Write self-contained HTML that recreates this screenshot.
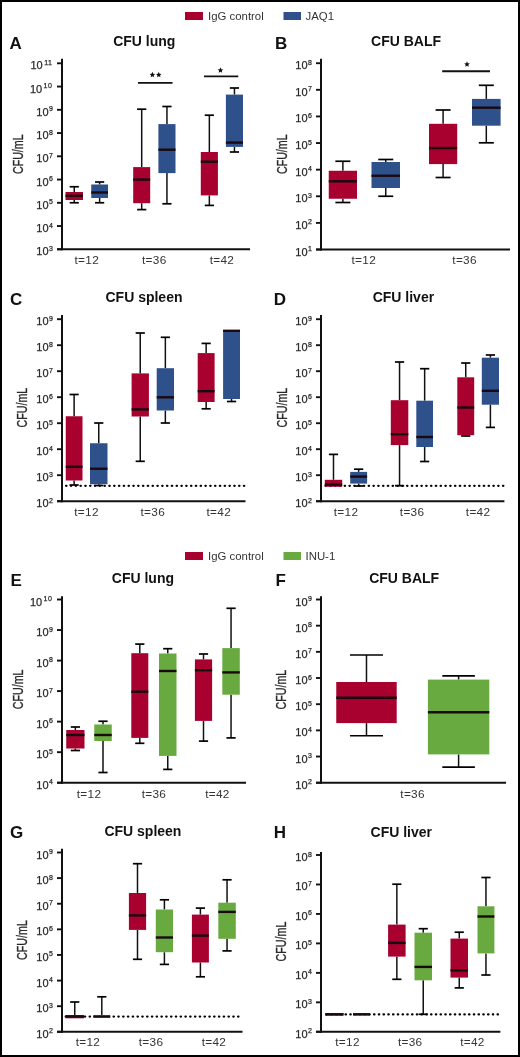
<!DOCTYPE html>
<html><head><meta charset="utf-8"><title>CFU box plots</title>
<style>
html,body{margin:0;padding:0;background:#fff;}
body{width:520px;height:1057px;overflow:hidden;}
.frame{position:absolute;left:0;top:0;width:520px;height:1057px;box-sizing:border-box;border:2px solid #000;}
svg{position:absolute;left:0;top:0;will-change:transform;}
text{font-family:"Liberation Sans",sans-serif;}
.tk{font-size:11px;fill:#2a2a2a;stroke:#2a2a2a;stroke-width:0.25px;}
.sup{font-size:7px;}
.yl{font-size:15.5px;fill:#2a2a2a;stroke:#2a2a2a;stroke-width:0.35px;}
.tl{font-size:11.8px;fill:#333;letter-spacing:0.3px;}
.ti{font-size:14px;font-weight:bold;fill:#111;}
.le{font-size:17px;font-weight:bold;fill:#111;}
.st{font-size:13px;fill:#111;}
.lg{font-size:11.4px;fill:#333333;}
</style></head>
<body>
<svg width="520" height="1057" viewBox="0 0 520 1057">
<rect x="185" y="12" width="18" height="8" fill="#a8002f"/>
<text x="208" y="20" class="lg">IgG control</text>
<rect x="283.5" y="12" width="17.5" height="8" fill="#2e508b"/>
<text x="305.5" y="20" class="lg">JAQ1</text>
<rect x="185" y="552" width="18" height="8" fill="#a8002f"/>
<text x="208" y="560" class="lg">IgG control</text>
<rect x="283.5" y="552" width="17.5" height="8" fill="#69aa40"/>
<text x="305.5" y="560" class="lg">INU-1</text>
<text x="9.5" y="48.8" class="le">A</text>
<text x="144.3" y="45.6" text-anchor="middle" class="ti">CFU lung</text>
<line x1="62" y1="58.8" x2="62" y2="250.3" stroke="#111111" stroke-width="2"/>
<line x1="57" y1="249.3" x2="250" y2="249.3" stroke="#111111" stroke-width="2"/>
<line x1="57" y1="63.3" x2="62" y2="63.3" stroke="#111111" stroke-width="1.9"/>
<text x="52.6" y="69.3" text-anchor="end" class="tk">10<tspan class="sup" dx="1.4" dy="-4.5" style="letter-spacing:0.6px">11</tspan></text>
<line x1="57" y1="86.55" x2="62" y2="86.55" stroke="#111111" stroke-width="1.9"/>
<text x="52.6" y="92.55" text-anchor="end" class="tk">10<tspan class="sup" dx="1.4" dy="-4.5" style="letter-spacing:0.6px">10</tspan></text>
<line x1="57" y1="109.8" x2="62" y2="109.8" stroke="#111111" stroke-width="1.9"/>
<text x="53" y="115.8" text-anchor="end" class="tk">10<tspan class="sup" dx="0.5" dy="-4.5">9</tspan></text>
<line x1="57" y1="133.05" x2="62" y2="133.05" stroke="#111111" stroke-width="1.9"/>
<text x="53" y="139.05" text-anchor="end" class="tk">10<tspan class="sup" dx="0.5" dy="-4.5">8</tspan></text>
<line x1="57" y1="156.3" x2="62" y2="156.3" stroke="#111111" stroke-width="1.9"/>
<text x="53" y="162.3" text-anchor="end" class="tk">10<tspan class="sup" dx="0.5" dy="-4.5">7</tspan></text>
<line x1="57" y1="179.55" x2="62" y2="179.55" stroke="#111111" stroke-width="1.9"/>
<text x="53" y="185.55" text-anchor="end" class="tk">10<tspan class="sup" dx="0.5" dy="-4.5">6</tspan></text>
<line x1="57" y1="202.8" x2="62" y2="202.8" stroke="#111111" stroke-width="1.9"/>
<text x="53" y="208.8" text-anchor="end" class="tk">10<tspan class="sup" dx="0.5" dy="-4.5">5</tspan></text>
<line x1="57" y1="226.05" x2="62" y2="226.05" stroke="#111111" stroke-width="1.9"/>
<text x="53" y="232.05" text-anchor="end" class="tk">10<tspan class="sup" dx="0.5" dy="-4.5">4</tspan></text>
<line x1="57" y1="249.3" x2="62" y2="249.3" stroke="#111111" stroke-width="1.9"/>
<text x="53" y="255.3" text-anchor="end" class="tk">10<tspan class="sup" dx="0.5" dy="-4.5">3</tspan></text>
<text transform="translate(23.2,154.2) rotate(-90) scale(0.69,1)" text-anchor="middle" class="yl">CFU/mL</text>
<line x1="74.25" y1="186.75" x2="74.25" y2="192" stroke="#111111" stroke-width="1.5"/>
<line x1="69.65" y1="186.75" x2="78.85" y2="186.75" stroke="#000" stroke-width="1.7"/>
<line x1="74.25" y1="200" x2="74.25" y2="202.75" stroke="#111111" stroke-width="1.5"/>
<line x1="69.65" y1="202.75" x2="78.85" y2="202.75" stroke="#000" stroke-width="1.7"/>
<rect x="65.5" y="192" width="17.5" height="8" fill="#a8002f"/>
<line x1="65.5" y1="195.75" x2="83" y2="195.75" stroke="#1a0a10" stroke-width="2.4"/>
<line x1="99.62" y1="182" x2="99.62" y2="184.5" stroke="#111111" stroke-width="1.5"/>
<line x1="95.03" y1="182" x2="104.22" y2="182" stroke="#000" stroke-width="1.7"/>
<line x1="99.62" y1="198" x2="99.62" y2="202.75" stroke="#111111" stroke-width="1.5"/>
<line x1="95.03" y1="202.75" x2="104.22" y2="202.75" stroke="#000" stroke-width="1.7"/>
<rect x="91.25" y="184.5" width="16.75" height="13.5" fill="#2e508b"/>
<line x1="91.25" y1="192.5" x2="108" y2="192.5" stroke="#1a0a10" stroke-width="2.4"/>
<line x1="141.7" y1="109.2" x2="141.7" y2="167.1" stroke="#111111" stroke-width="1.5"/>
<line x1="137.1" y1="109.2" x2="146.3" y2="109.2" stroke="#000" stroke-width="1.7"/>
<line x1="141.7" y1="203.2" x2="141.7" y2="209.6" stroke="#111111" stroke-width="1.5"/>
<line x1="137.1" y1="209.6" x2="146.3" y2="209.6" stroke="#000" stroke-width="1.7"/>
<rect x="133.2" y="167.1" width="17" height="36.1" fill="#a8002f"/>
<line x1="133.2" y1="179.6" x2="150.2" y2="179.6" stroke="#1a0a10" stroke-width="2.4"/>
<line x1="166.95" y1="106.5" x2="166.95" y2="124.1" stroke="#111111" stroke-width="1.5"/>
<line x1="162.35" y1="106.5" x2="171.55" y2="106.5" stroke="#000" stroke-width="1.7"/>
<line x1="166.95" y1="173.1" x2="166.95" y2="203.8" stroke="#111111" stroke-width="1.5"/>
<line x1="162.35" y1="203.8" x2="171.55" y2="203.8" stroke="#000" stroke-width="1.7"/>
<rect x="158.4" y="124.1" width="17.1" height="49" fill="#2e508b"/>
<line x1="158.4" y1="149.7" x2="175.5" y2="149.7" stroke="#1a0a10" stroke-width="2.4"/>
<line x1="209.35" y1="115.2" x2="209.35" y2="152" stroke="#111111" stroke-width="1.5"/>
<line x1="204.75" y1="115.2" x2="213.95" y2="115.2" stroke="#000" stroke-width="1.7"/>
<line x1="209.35" y1="195.4" x2="209.35" y2="205.4" stroke="#111111" stroke-width="1.5"/>
<line x1="204.75" y1="205.4" x2="213.95" y2="205.4" stroke="#000" stroke-width="1.7"/>
<rect x="200.8" y="152" width="17.1" height="43.4" fill="#a8002f"/>
<line x1="200.8" y1="161.7" x2="217.9" y2="161.7" stroke="#1a0a10" stroke-width="2.4"/>
<line x1="234.45" y1="88" x2="234.45" y2="94.6" stroke="#111111" stroke-width="1.5"/>
<line x1="229.85" y1="88" x2="239.05" y2="88" stroke="#000" stroke-width="1.7"/>
<line x1="234.45" y1="146.9" x2="234.45" y2="152" stroke="#111111" stroke-width="1.5"/>
<line x1="229.85" y1="152" x2="239.05" y2="152" stroke="#000" stroke-width="1.7"/>
<rect x="225.9" y="94.6" width="17.1" height="52.3" fill="#2e508b"/>
<line x1="225.9" y1="142.6" x2="243" y2="142.6" stroke="#1a0a10" stroke-width="2.4"/>
<line x1="138" y1="82.9" x2="172.5" y2="82.9" stroke="#111111" stroke-width="1.9"/>
<polygon points="152.4,71.85 153.21,73.68 155.21,73.89 153.72,75.23 154.13,77.19 152.4,76.19 150.67,77.19 151.08,75.23 149.59,73.89 151.59,73.68" fill="#111"/>
<polygon points="158.75,71.85 159.56,73.68 161.56,73.89 160.07,75.23 160.48,77.19 158.75,76.19 157.02,77.19 157.43,75.23 155.94,73.89 157.94,73.68" fill="#111"/>
<line x1="204" y1="76.4" x2="238.3" y2="76.4" stroke="#111111" stroke-width="1.9"/>
<polygon points="220.45,67.35 221.26,69.18 223.26,69.39 221.77,70.73 222.18,72.69 220.45,71.69 218.72,72.69 219.13,70.73 217.64,69.39 219.64,69.18" fill="#111"/>
<text x="86.75" y="264.3" text-anchor="middle" class="tl">t=12</text>
<text x="154.3" y="264.3" text-anchor="middle" class="tl">t=36</text>
<text x="221.9" y="264.3" text-anchor="middle" class="tl">t=42</text>
<text x="275" y="48.8" class="le">B</text>
<text x="406.1" y="45.9" text-anchor="middle" class="ti">CFU BALF</text>
<line x1="321" y1="58.7" x2="321" y2="250.5" stroke="#111111" stroke-width="2"/>
<line x1="316" y1="249.5" x2="510" y2="249.5" stroke="#111111" stroke-width="2"/>
<line x1="316" y1="63.2" x2="321" y2="63.2" stroke="#111111" stroke-width="1.9"/>
<text x="312" y="69.2" text-anchor="end" class="tk">10<tspan class="sup" dx="0.5" dy="-4.5">8</tspan></text>
<line x1="316" y1="89.81" x2="321" y2="89.81" stroke="#111111" stroke-width="1.9"/>
<text x="312" y="95.81" text-anchor="end" class="tk">10<tspan class="sup" dx="0.5" dy="-4.5">7</tspan></text>
<line x1="316" y1="116.43" x2="321" y2="116.43" stroke="#111111" stroke-width="1.9"/>
<text x="312" y="122.43" text-anchor="end" class="tk">10<tspan class="sup" dx="0.5" dy="-4.5">6</tspan></text>
<line x1="316" y1="143.04" x2="321" y2="143.04" stroke="#111111" stroke-width="1.9"/>
<text x="312" y="149.04" text-anchor="end" class="tk">10<tspan class="sup" dx="0.5" dy="-4.5">5</tspan></text>
<line x1="316" y1="169.66" x2="321" y2="169.66" stroke="#111111" stroke-width="1.9"/>
<text x="312" y="175.66" text-anchor="end" class="tk">10<tspan class="sup" dx="0.5" dy="-4.5">4</tspan></text>
<line x1="316" y1="196.27" x2="321" y2="196.27" stroke="#111111" stroke-width="1.9"/>
<text x="312" y="202.27" text-anchor="end" class="tk">10<tspan class="sup" dx="0.5" dy="-4.5">3</tspan></text>
<line x1="316" y1="222.89" x2="321" y2="222.89" stroke="#111111" stroke-width="1.9"/>
<text x="312" y="228.89" text-anchor="end" class="tk">10<tspan class="sup" dx="0.5" dy="-4.5">2</tspan></text>
<line x1="316" y1="249.5" x2="321" y2="249.5" stroke="#111111" stroke-width="1.9"/>
<text x="312" y="255.5" text-anchor="end" class="tk">10<tspan class="sup" dx="0.5" dy="-4.5">1</tspan></text>
<text transform="translate(286.6,154.2) rotate(-90) scale(0.69,1)" text-anchor="middle" class="yl">CFU/mL</text>
<line x1="342.88" y1="161.25" x2="342.88" y2="170.75" stroke="#111111" stroke-width="1.5"/>
<line x1="335.38" y1="161.25" x2="350.38" y2="161.25" stroke="#000" stroke-width="1.7"/>
<line x1="342.88" y1="198.75" x2="342.88" y2="202.5" stroke="#111111" stroke-width="1.5"/>
<line x1="335.38" y1="202.5" x2="350.38" y2="202.5" stroke="#000" stroke-width="1.7"/>
<rect x="328.75" y="170.75" width="28.25" height="28" fill="#a8002f"/>
<line x1="328.75" y1="181.25" x2="357" y2="181.25" stroke="#1a0a10" stroke-width="2.4"/>
<line x1="385.75" y1="159.5" x2="385.75" y2="162" stroke="#111111" stroke-width="1.5"/>
<line x1="378.25" y1="159.5" x2="393.25" y2="159.5" stroke="#000" stroke-width="1.7"/>
<line x1="385.75" y1="188" x2="385.75" y2="196.25" stroke="#111111" stroke-width="1.5"/>
<line x1="378.25" y1="196.25" x2="393.25" y2="196.25" stroke="#000" stroke-width="1.7"/>
<rect x="371.5" y="162" width="28.5" height="26" fill="#2e508b"/>
<line x1="371.5" y1="175.75" x2="400" y2="175.75" stroke="#1a0a10" stroke-width="2.4"/>
<line x1="443.1" y1="110" x2="443.1" y2="123.8" stroke="#111111" stroke-width="1.5"/>
<line x1="435.6" y1="110" x2="450.6" y2="110" stroke="#000" stroke-width="1.7"/>
<line x1="443.1" y1="164.1" x2="443.1" y2="177.5" stroke="#111111" stroke-width="1.5"/>
<line x1="435.6" y1="177.5" x2="450.6" y2="177.5" stroke="#000" stroke-width="1.7"/>
<rect x="429" y="123.8" width="28.2" height="40.3" fill="#a8002f"/>
<line x1="429" y1="148.1" x2="457.2" y2="148.1" stroke="#1a0a10" stroke-width="2.4"/>
<line x1="486.3" y1="85.3" x2="486.3" y2="98.9" stroke="#111111" stroke-width="1.5"/>
<line x1="478.8" y1="85.3" x2="493.8" y2="85.3" stroke="#000" stroke-width="1.7"/>
<line x1="486.3" y1="125.7" x2="486.3" y2="142.8" stroke="#111111" stroke-width="1.5"/>
<line x1="478.8" y1="142.8" x2="493.8" y2="142.8" stroke="#000" stroke-width="1.7"/>
<rect x="472" y="98.9" width="28.6" height="26.8" fill="#2e508b"/>
<line x1="472" y1="107.7" x2="500.6" y2="107.7" stroke="#1a0a10" stroke-width="2.4"/>
<line x1="442.2" y1="71.3" x2="490" y2="71.3" stroke="#111111" stroke-width="1.9"/>
<polygon points="467,61.35 467.81,63.18 469.81,63.39 468.32,64.73 468.73,66.69 467,65.69 465.27,66.69 465.68,64.73 464.19,63.39 466.19,63.18" fill="#111"/>
<text x="363.75" y="264.3" text-anchor="middle" class="tl">t=12</text>
<text x="464.6" y="264.3" text-anchor="middle" class="tl">t=36</text>
<text x="10" y="305.2" class="le">C</text>
<text x="144" y="302.3" text-anchor="middle" class="ti">CFU spleen</text>
<line x1="62" y1="315" x2="62" y2="502.2" stroke="#111111" stroke-width="2"/>
<line x1="57" y1="501.2" x2="245.5" y2="501.2" stroke="#111111" stroke-width="2"/>
<line x1="57" y1="319.2" x2="62" y2="319.2" stroke="#111111" stroke-width="1.9"/>
<text x="53" y="325.2" text-anchor="end" class="tk">10<tspan class="sup" dx="0.5" dy="-4.5">9</tspan></text>
<line x1="57" y1="345.2" x2="62" y2="345.2" stroke="#111111" stroke-width="1.9"/>
<text x="53" y="351.2" text-anchor="end" class="tk">10<tspan class="sup" dx="0.5" dy="-4.5">8</tspan></text>
<line x1="57" y1="371.2" x2="62" y2="371.2" stroke="#111111" stroke-width="1.9"/>
<text x="53" y="377.2" text-anchor="end" class="tk">10<tspan class="sup" dx="0.5" dy="-4.5">7</tspan></text>
<line x1="57" y1="397.2" x2="62" y2="397.2" stroke="#111111" stroke-width="1.9"/>
<text x="53" y="403.2" text-anchor="end" class="tk">10<tspan class="sup" dx="0.5" dy="-4.5">6</tspan></text>
<line x1="57" y1="423.2" x2="62" y2="423.2" stroke="#111111" stroke-width="1.9"/>
<text x="53" y="429.2" text-anchor="end" class="tk">10<tspan class="sup" dx="0.5" dy="-4.5">5</tspan></text>
<line x1="57" y1="449.2" x2="62" y2="449.2" stroke="#111111" stroke-width="1.9"/>
<text x="53" y="455.2" text-anchor="end" class="tk">10<tspan class="sup" dx="0.5" dy="-4.5">4</tspan></text>
<line x1="57" y1="475.2" x2="62" y2="475.2" stroke="#111111" stroke-width="1.9"/>
<text x="53" y="481.2" text-anchor="end" class="tk">10<tspan class="sup" dx="0.5" dy="-4.5">3</tspan></text>
<line x1="57" y1="501.2" x2="62" y2="501.2" stroke="#111111" stroke-width="1.9"/>
<text x="53" y="507.2" text-anchor="end" class="tk">10<tspan class="sup" dx="0.5" dy="-4.5">2</tspan></text>
<text transform="translate(27,407.65) rotate(-90) scale(0.69,1)" text-anchor="middle" class="yl">CFU/mL</text>
<line x1="66.1" y1="485.8" x2="244.5" y2="485.8" stroke="#000" stroke-width="2.3" stroke-linecap="round" stroke-dasharray="0.35 4.4554"/>
<line x1="74.12" y1="394.5" x2="74.12" y2="416.25" stroke="#111111" stroke-width="1.5"/>
<line x1="69.53" y1="394.5" x2="78.72" y2="394.5" stroke="#000" stroke-width="1.7"/>
<line x1="74.12" y1="480.5" x2="74.12" y2="485" stroke="#111111" stroke-width="1.5"/>
<line x1="69.53" y1="485" x2="78.72" y2="485" stroke="#000" stroke-width="1.7"/>
<rect x="65.75" y="416.25" width="16.75" height="64.25" fill="#a8002f"/>
<line x1="65.75" y1="466.75" x2="82.5" y2="466.75" stroke="#1a0a10" stroke-width="2.4"/>
<line x1="98.75" y1="423" x2="98.75" y2="443.25" stroke="#111111" stroke-width="1.5"/>
<line x1="94.15" y1="423" x2="103.35" y2="423" stroke="#000" stroke-width="1.7"/>
<line x1="98.75" y1="484.25" x2="98.75" y2="485.5" stroke="#111111" stroke-width="1.5"/>
<line x1="94.15" y1="485.5" x2="103.35" y2="485.5" stroke="#000" stroke-width="1.7"/>
<rect x="90" y="443.25" width="17.5" height="41" fill="#2e508b"/>
<line x1="90" y1="468.75" x2="107.5" y2="468.75" stroke="#1a0a10" stroke-width="2.4"/>
<line x1="140.25" y1="333" x2="140.25" y2="373.4" stroke="#111111" stroke-width="1.5"/>
<line x1="135.65" y1="333" x2="144.85" y2="333" stroke="#000" stroke-width="1.7"/>
<line x1="140.25" y1="416.5" x2="140.25" y2="461.3" stroke="#111111" stroke-width="1.5"/>
<line x1="135.65" y1="461.3" x2="144.85" y2="461.3" stroke="#000" stroke-width="1.7"/>
<rect x="131.6" y="373.4" width="17.3" height="43.1" fill="#a8002f"/>
<line x1="131.6" y1="409.4" x2="148.9" y2="409.4" stroke="#1a0a10" stroke-width="2.4"/>
<line x1="165.35" y1="337.3" x2="165.35" y2="368.2" stroke="#111111" stroke-width="1.5"/>
<line x1="160.75" y1="337.3" x2="169.95" y2="337.3" stroke="#000" stroke-width="1.7"/>
<line x1="165.35" y1="410.5" x2="165.35" y2="423" stroke="#111111" stroke-width="1.5"/>
<line x1="160.75" y1="423" x2="169.95" y2="423" stroke="#000" stroke-width="1.7"/>
<rect x="156.7" y="368.2" width="17.3" height="42.3" fill="#2e508b"/>
<line x1="156.7" y1="397.3" x2="174" y2="397.3" stroke="#1a0a10" stroke-width="2.4"/>
<line x1="206.15" y1="343.4" x2="206.15" y2="353.1" stroke="#111111" stroke-width="1.5"/>
<line x1="201.55" y1="343.4" x2="210.75" y2="343.4" stroke="#000" stroke-width="1.7"/>
<line x1="206.15" y1="402" x2="206.15" y2="408.8" stroke="#111111" stroke-width="1.5"/>
<line x1="201.55" y1="408.8" x2="210.75" y2="408.8" stroke="#000" stroke-width="1.7"/>
<rect x="197.7" y="353.1" width="16.9" height="48.9" fill="#a8002f"/>
<line x1="197.7" y1="391.2" x2="214.6" y2="391.2" stroke="#1a0a10" stroke-width="2.4"/>
<line x1="231.55" y1="399" x2="231.55" y2="401.5" stroke="#111111" stroke-width="1.5"/>
<line x1="226.95" y1="401.5" x2="236.15" y2="401.5" stroke="#000" stroke-width="1.7"/>
<rect x="223.1" y="330" width="16.9" height="69" fill="#2e508b"/>
<line x1="223.1" y1="330.8" x2="240" y2="330.8" stroke="#1a0a10" stroke-width="2.4"/>
<text x="86.5" y="516" text-anchor="middle" class="tl">t=12</text>
<text x="152.8" y="516" text-anchor="middle" class="tl">t=36</text>
<text x="218.8" y="516" text-anchor="middle" class="tl">t=42</text>
<text x="273.75" y="305.2" class="le">D</text>
<text x="403.4" y="301.9" text-anchor="middle" class="ti">CFU liver</text>
<line x1="321" y1="315" x2="321" y2="502.2" stroke="#111111" stroke-width="2"/>
<line x1="316" y1="501.2" x2="504.4" y2="501.2" stroke="#111111" stroke-width="2"/>
<line x1="316" y1="319.2" x2="321" y2="319.2" stroke="#111111" stroke-width="1.9"/>
<text x="312" y="325.2" text-anchor="end" class="tk">10<tspan class="sup" dx="0.5" dy="-4.5">9</tspan></text>
<line x1="316" y1="345.2" x2="321" y2="345.2" stroke="#111111" stroke-width="1.9"/>
<text x="312" y="351.2" text-anchor="end" class="tk">10<tspan class="sup" dx="0.5" dy="-4.5">8</tspan></text>
<line x1="316" y1="371.2" x2="321" y2="371.2" stroke="#111111" stroke-width="1.9"/>
<text x="312" y="377.2" text-anchor="end" class="tk">10<tspan class="sup" dx="0.5" dy="-4.5">7</tspan></text>
<line x1="316" y1="397.2" x2="321" y2="397.2" stroke="#111111" stroke-width="1.9"/>
<text x="312" y="403.2" text-anchor="end" class="tk">10<tspan class="sup" dx="0.5" dy="-4.5">6</tspan></text>
<line x1="316" y1="423.2" x2="321" y2="423.2" stroke="#111111" stroke-width="1.9"/>
<text x="312" y="429.2" text-anchor="end" class="tk">10<tspan class="sup" dx="0.5" dy="-4.5">5</tspan></text>
<line x1="316" y1="449.2" x2="321" y2="449.2" stroke="#111111" stroke-width="1.9"/>
<text x="312" y="455.2" text-anchor="end" class="tk">10<tspan class="sup" dx="0.5" dy="-4.5">4</tspan></text>
<line x1="316" y1="475.2" x2="321" y2="475.2" stroke="#111111" stroke-width="1.9"/>
<text x="312" y="481.2" text-anchor="end" class="tk">10<tspan class="sup" dx="0.5" dy="-4.5">3</tspan></text>
<line x1="316" y1="501.2" x2="321" y2="501.2" stroke="#111111" stroke-width="1.9"/>
<text x="312" y="507.2" text-anchor="end" class="tk">10<tspan class="sup" dx="0.5" dy="-4.5">2</tspan></text>
<text transform="translate(286.6,407.65) rotate(-90) scale(0.69,1)" text-anchor="middle" class="yl">CFU/mL</text>
<line x1="325.5" y1="485.8" x2="503.6" y2="485.8" stroke="#000" stroke-width="2.3" stroke-linecap="round" stroke-dasharray="0.35 4.4473"/>
<line x1="333.5" y1="454.4" x2="333.5" y2="479.8" stroke="#111111" stroke-width="1.5"/>
<line x1="328.9" y1="454.4" x2="338.1" y2="454.4" stroke="#000" stroke-width="1.7"/>
<rect x="324.8" y="479.8" width="17.4" height="7" fill="#a8002f"/>
<line x1="324.8" y1="484.6" x2="342.2" y2="484.6" stroke="#1a0a10" stroke-width="2.4"/>
<line x1="358.65" y1="469.2" x2="358.65" y2="471.9" stroke="#111111" stroke-width="1.5"/>
<line x1="354.05" y1="469.2" x2="363.25" y2="469.2" stroke="#000" stroke-width="1.7"/>
<line x1="358.65" y1="483.6" x2="358.65" y2="486" stroke="#111111" stroke-width="1.5"/>
<line x1="354.05" y1="486" x2="363.25" y2="486" stroke="#000" stroke-width="1.7"/>
<rect x="350.2" y="471.9" width="16.9" height="11.7" fill="#2e508b"/>
<line x1="350.2" y1="476.6" x2="367.1" y2="476.6" stroke="#1a0a10" stroke-width="2.4"/>
<line x1="399.55" y1="362" x2="399.55" y2="400.2" stroke="#111111" stroke-width="1.5"/>
<line x1="394.95" y1="362" x2="404.15" y2="362" stroke="#000" stroke-width="1.7"/>
<line x1="399.55" y1="445.1" x2="399.55" y2="485.7" stroke="#111111" stroke-width="1.5"/>
<line x1="394.95" y1="485.7" x2="404.15" y2="485.7" stroke="#000" stroke-width="1.7"/>
<rect x="390.8" y="400.2" width="17.5" height="44.9" fill="#a8002f"/>
<line x1="390.8" y1="434.2" x2="408.3" y2="434.2" stroke="#1a0a10" stroke-width="2.4"/>
<line x1="424.65" y1="368.7" x2="424.65" y2="400.7" stroke="#111111" stroke-width="1.5"/>
<line x1="420.05" y1="368.7" x2="429.25" y2="368.7" stroke="#000" stroke-width="1.7"/>
<line x1="424.65" y1="447" x2="424.65" y2="461.5" stroke="#111111" stroke-width="1.5"/>
<line x1="420.05" y1="461.5" x2="429.25" y2="461.5" stroke="#000" stroke-width="1.7"/>
<rect x="416.3" y="400.7" width="16.7" height="46.3" fill="#2e508b"/>
<line x1="416.3" y1="437" x2="433" y2="437" stroke="#1a0a10" stroke-width="2.4"/>
<line x1="465.75" y1="363" x2="465.75" y2="377.3" stroke="#111111" stroke-width="1.5"/>
<line x1="461.15" y1="363" x2="470.35" y2="363" stroke="#000" stroke-width="1.7"/>
<line x1="465.75" y1="435.2" x2="465.75" y2="436" stroke="#111111" stroke-width="1.5"/>
<line x1="461.15" y1="436" x2="470.35" y2="436" stroke="#000" stroke-width="1.7"/>
<rect x="457.3" y="377.3" width="16.9" height="57.9" fill="#a8002f"/>
<line x1="457.3" y1="407.5" x2="474.2" y2="407.5" stroke="#1a0a10" stroke-width="2.4"/>
<line x1="490.4" y1="355" x2="490.4" y2="357.7" stroke="#111111" stroke-width="1.5"/>
<line x1="485.8" y1="355" x2="495" y2="355" stroke="#000" stroke-width="1.7"/>
<line x1="490.4" y1="404.7" x2="490.4" y2="427.4" stroke="#111111" stroke-width="1.5"/>
<line x1="485.8" y1="427.4" x2="495" y2="427.4" stroke="#000" stroke-width="1.7"/>
<rect x="481.8" y="357.7" width="17.2" height="47" fill="#2e508b"/>
<line x1="481.8" y1="390.8" x2="499" y2="390.8" stroke="#1a0a10" stroke-width="2.4"/>
<text x="346" y="516" text-anchor="middle" class="tl">t=12</text>
<text x="412.1" y="516" text-anchor="middle" class="tl">t=36</text>
<text x="478.1" y="516" text-anchor="middle" class="tl">t=42</text>
<text x="10.5" y="585.5" class="le">E</text>
<text x="142.9" y="582.6" text-anchor="middle" class="ti">CFU lung</text>
<line x1="62" y1="596.25" x2="62" y2="783.7" stroke="#111111" stroke-width="2"/>
<line x1="57" y1="782.7" x2="246" y2="782.7" stroke="#111111" stroke-width="2"/>
<line x1="57" y1="599.5" x2="62" y2="599.5" stroke="#111111" stroke-width="1.9"/>
<text x="52.6" y="605.5" text-anchor="end" class="tk">10<tspan class="sup" dx="1.4" dy="-4.5" style="letter-spacing:0.6px">10</tspan></text>
<line x1="57" y1="630.03" x2="62" y2="630.03" stroke="#111111" stroke-width="1.9"/>
<text x="53" y="636.03" text-anchor="end" class="tk">10<tspan class="sup" dx="0.5" dy="-4.5">9</tspan></text>
<line x1="57" y1="660.57" x2="62" y2="660.57" stroke="#111111" stroke-width="1.9"/>
<text x="53" y="666.57" text-anchor="end" class="tk">10<tspan class="sup" dx="0.5" dy="-4.5">8</tspan></text>
<line x1="57" y1="691.1" x2="62" y2="691.1" stroke="#111111" stroke-width="1.9"/>
<text x="53" y="697.1" text-anchor="end" class="tk">10<tspan class="sup" dx="0.5" dy="-4.5">7</tspan></text>
<line x1="57" y1="721.63" x2="62" y2="721.63" stroke="#111111" stroke-width="1.9"/>
<text x="53" y="727.63" text-anchor="end" class="tk">10<tspan class="sup" dx="0.5" dy="-4.5">6</tspan></text>
<line x1="57" y1="752.17" x2="62" y2="752.17" stroke="#111111" stroke-width="1.9"/>
<text x="53" y="758.17" text-anchor="end" class="tk">10<tspan class="sup" dx="0.5" dy="-4.5">5</tspan></text>
<line x1="57" y1="782.7" x2="62" y2="782.7" stroke="#111111" stroke-width="1.9"/>
<text x="53" y="788.7" text-anchor="end" class="tk">10<tspan class="sup" dx="0.5" dy="-4.5">4</tspan></text>
<text transform="translate(22.8,689.4) rotate(-90) scale(0.69,1)" text-anchor="middle" class="yl">CFU/mL</text>
<line x1="75.38" y1="727" x2="75.38" y2="730" stroke="#111111" stroke-width="1.5"/>
<line x1="70.78" y1="727" x2="79.97" y2="727" stroke="#000" stroke-width="1.7"/>
<line x1="75.38" y1="748.5" x2="75.38" y2="750.5" stroke="#111111" stroke-width="1.5"/>
<line x1="70.78" y1="750.5" x2="79.97" y2="750.5" stroke="#000" stroke-width="1.7"/>
<rect x="66.25" y="730" width="18.25" height="18.5" fill="#a8002f"/>
<line x1="66.25" y1="735" x2="84.5" y2="735" stroke="#1a0a10" stroke-width="2.4"/>
<line x1="103" y1="721.25" x2="103" y2="724.5" stroke="#111111" stroke-width="1.5"/>
<line x1="98.4" y1="721.25" x2="107.6" y2="721.25" stroke="#000" stroke-width="1.7"/>
<line x1="103" y1="741" x2="103" y2="772.5" stroke="#111111" stroke-width="1.5"/>
<line x1="98.4" y1="772.5" x2="107.6" y2="772.5" stroke="#000" stroke-width="1.7"/>
<rect x="94.25" y="724.5" width="17.5" height="16.5" fill="#69aa40"/>
<line x1="94.25" y1="735" x2="111.75" y2="735" stroke="#1a0a10" stroke-width="2.4"/>
<line x1="139.8" y1="644.1" x2="139.8" y2="653.2" stroke="#111111" stroke-width="1.5"/>
<line x1="135.2" y1="644.1" x2="144.4" y2="644.1" stroke="#000" stroke-width="1.7"/>
<line x1="139.8" y1="737.9" x2="139.8" y2="743.3" stroke="#111111" stroke-width="1.5"/>
<line x1="135.2" y1="743.3" x2="144.4" y2="743.3" stroke="#000" stroke-width="1.7"/>
<rect x="131.3" y="653.2" width="17" height="84.7" fill="#a8002f"/>
<line x1="131.3" y1="691.7" x2="148.3" y2="691.7" stroke="#1a0a10" stroke-width="2.4"/>
<line x1="167.75" y1="648.7" x2="167.75" y2="653.5" stroke="#111111" stroke-width="1.5"/>
<line x1="163.15" y1="648.7" x2="172.35" y2="648.7" stroke="#000" stroke-width="1.7"/>
<line x1="167.75" y1="755.9" x2="167.75" y2="769.4" stroke="#111111" stroke-width="1.5"/>
<line x1="163.15" y1="769.4" x2="172.35" y2="769.4" stroke="#000" stroke-width="1.7"/>
<rect x="159" y="653.5" width="17.5" height="102.4" fill="#69aa40"/>
<line x1="159" y1="671" x2="176.5" y2="671" stroke="#1a0a10" stroke-width="2.4"/>
<line x1="203.5" y1="654" x2="203.5" y2="659.4" stroke="#111111" stroke-width="1.5"/>
<line x1="198.9" y1="654" x2="208.1" y2="654" stroke="#000" stroke-width="1.7"/>
<line x1="203.5" y1="720.9" x2="203.5" y2="741.1" stroke="#111111" stroke-width="1.5"/>
<line x1="198.9" y1="741.1" x2="208.1" y2="741.1" stroke="#000" stroke-width="1.7"/>
<rect x="194.9" y="659.4" width="17.2" height="61.5" fill="#a8002f"/>
<line x1="194.9" y1="670.2" x2="212.1" y2="670.2" stroke="#1a0a10" stroke-width="2.4"/>
<line x1="231.05" y1="608.3" x2="231.05" y2="648.1" stroke="#111111" stroke-width="1.5"/>
<line x1="226.45" y1="608.3" x2="235.65" y2="608.3" stroke="#000" stroke-width="1.7"/>
<line x1="231.05" y1="694.7" x2="231.05" y2="737.9" stroke="#111111" stroke-width="1.5"/>
<line x1="226.45" y1="737.9" x2="235.65" y2="737.9" stroke="#000" stroke-width="1.7"/>
<rect x="222.3" y="648.1" width="17.5" height="46.6" fill="#69aa40"/>
<line x1="222.3" y1="672.4" x2="239.8" y2="672.4" stroke="#1a0a10" stroke-width="2.4"/>
<text x="89" y="797.6" text-anchor="middle" class="tl">t=12</text>
<text x="153.9" y="797.6" text-anchor="middle" class="tl">t=36</text>
<text x="217.4" y="797.6" text-anchor="middle" class="tl">t=42</text>
<text x="275.5" y="585.5" class="le">F</text>
<text x="404.2" y="583" text-anchor="middle" class="ti">CFU BALF</text>
<line x1="321" y1="596.25" x2="321" y2="783.7" stroke="#111111" stroke-width="2"/>
<line x1="316" y1="782.7" x2="506" y2="782.7" stroke="#111111" stroke-width="2"/>
<line x1="316" y1="599.5" x2="321" y2="599.5" stroke="#111111" stroke-width="1.9"/>
<text x="312" y="605.5" text-anchor="end" class="tk">10<tspan class="sup" dx="0.5" dy="-4.5">9</tspan></text>
<line x1="316" y1="625.67" x2="321" y2="625.67" stroke="#111111" stroke-width="1.9"/>
<text x="312" y="631.67" text-anchor="end" class="tk">10<tspan class="sup" dx="0.5" dy="-4.5">8</tspan></text>
<line x1="316" y1="651.84" x2="321" y2="651.84" stroke="#111111" stroke-width="1.9"/>
<text x="312" y="657.84" text-anchor="end" class="tk">10<tspan class="sup" dx="0.5" dy="-4.5">7</tspan></text>
<line x1="316" y1="678.01" x2="321" y2="678.01" stroke="#111111" stroke-width="1.9"/>
<text x="312" y="684.01" text-anchor="end" class="tk">10<tspan class="sup" dx="0.5" dy="-4.5">6</tspan></text>
<line x1="316" y1="704.19" x2="321" y2="704.19" stroke="#111111" stroke-width="1.9"/>
<text x="312" y="710.19" text-anchor="end" class="tk">10<tspan class="sup" dx="0.5" dy="-4.5">5</tspan></text>
<line x1="316" y1="730.36" x2="321" y2="730.36" stroke="#111111" stroke-width="1.9"/>
<text x="312" y="736.36" text-anchor="end" class="tk">10<tspan class="sup" dx="0.5" dy="-4.5">4</tspan></text>
<line x1="316" y1="756.53" x2="321" y2="756.53" stroke="#111111" stroke-width="1.9"/>
<text x="312" y="762.53" text-anchor="end" class="tk">10<tspan class="sup" dx="0.5" dy="-4.5">3</tspan></text>
<line x1="316" y1="782.7" x2="321" y2="782.7" stroke="#111111" stroke-width="1.9"/>
<text x="312" y="788.7" text-anchor="end" class="tk">10<tspan class="sup" dx="0.5" dy="-4.5">2</tspan></text>
<text transform="translate(286.2,689.6) rotate(-90) scale(0.69,1)" text-anchor="middle" class="yl">CFU/mL</text>
<line x1="366.48" y1="655" x2="366.48" y2="682" stroke="#111111" stroke-width="1.5"/>
<line x1="349.98" y1="655" x2="382.98" y2="655" stroke="#000" stroke-width="1.7"/>
<line x1="366.48" y1="723.1" x2="366.48" y2="735.75" stroke="#111111" stroke-width="1.5"/>
<line x1="349.98" y1="735.75" x2="382.98" y2="735.75" stroke="#000" stroke-width="1.7"/>
<rect x="336.25" y="682" width="60.45" height="41.1" fill="#a8002f"/>
<line x1="336.25" y1="697.7" x2="396.7" y2="697.7" stroke="#1a0a10" stroke-width="2.4"/>
<line x1="458.6" y1="675.8" x2="458.6" y2="679.6" stroke="#111111" stroke-width="1.5"/>
<line x1="442.3" y1="675.8" x2="474.9" y2="675.8" stroke="#000" stroke-width="1.7"/>
<line x1="458.6" y1="754.4" x2="458.6" y2="767.1" stroke="#111111" stroke-width="1.5"/>
<line x1="442.3" y1="767.1" x2="474.9" y2="767.1" stroke="#000" stroke-width="1.7"/>
<rect x="427.9" y="679.6" width="61.4" height="74.8" fill="#69aa40"/>
<line x1="427.9" y1="712.2" x2="489.3" y2="712.2" stroke="#1a0a10" stroke-width="2.4"/>
<text x="412.6" y="797.6" text-anchor="middle" class="tl">t=36</text>
<text x="10" y="838.2" class="le">G</text>
<text x="142.9" y="835.6" text-anchor="middle" class="ti">CFU spleen</text>
<line x1="62" y1="848.75" x2="62" y2="1032.8" stroke="#111111" stroke-width="2"/>
<line x1="57" y1="1031.8" x2="242.5" y2="1031.8" stroke="#111111" stroke-width="2"/>
<line x1="57" y1="852.5" x2="62" y2="852.5" stroke="#111111" stroke-width="1.9"/>
<text x="53" y="858.5" text-anchor="end" class="tk">10<tspan class="sup" dx="0.5" dy="-4.5">9</tspan></text>
<line x1="57" y1="878.11" x2="62" y2="878.11" stroke="#111111" stroke-width="1.9"/>
<text x="53" y="884.11" text-anchor="end" class="tk">10<tspan class="sup" dx="0.5" dy="-4.5">8</tspan></text>
<line x1="57" y1="903.73" x2="62" y2="903.73" stroke="#111111" stroke-width="1.9"/>
<text x="53" y="909.73" text-anchor="end" class="tk">10<tspan class="sup" dx="0.5" dy="-4.5">7</tspan></text>
<line x1="57" y1="929.34" x2="62" y2="929.34" stroke="#111111" stroke-width="1.9"/>
<text x="53" y="935.34" text-anchor="end" class="tk">10<tspan class="sup" dx="0.5" dy="-4.5">6</tspan></text>
<line x1="57" y1="954.96" x2="62" y2="954.96" stroke="#111111" stroke-width="1.9"/>
<text x="53" y="960.96" text-anchor="end" class="tk">10<tspan class="sup" dx="0.5" dy="-4.5">5</tspan></text>
<line x1="57" y1="980.57" x2="62" y2="980.57" stroke="#111111" stroke-width="1.9"/>
<text x="53" y="986.57" text-anchor="end" class="tk">10<tspan class="sup" dx="0.5" dy="-4.5">4</tspan></text>
<line x1="57" y1="1006.19" x2="62" y2="1006.19" stroke="#111111" stroke-width="1.9"/>
<text x="53" y="1012.19" text-anchor="end" class="tk">10<tspan class="sup" dx="0.5" dy="-4.5">3</tspan></text>
<line x1="57" y1="1031.8" x2="62" y2="1031.8" stroke="#111111" stroke-width="1.9"/>
<text x="53" y="1037.8" text-anchor="end" class="tk">10<tspan class="sup" dx="0.5" dy="-4.5">2</tspan></text>
<text transform="translate(26.6,940) rotate(-90) scale(0.69,1)" text-anchor="middle" class="yl">CFU/mL</text>
<line x1="65.7" y1="1016.6" x2="238.7" y2="1016.6" stroke="#000" stroke-width="2.3" stroke-linecap="round" stroke-dasharray="0.35 4.4389"/>
<line x1="74.75" y1="1002" x2="74.75" y2="1015" stroke="#111111" stroke-width="1.5"/>
<line x1="70.15" y1="1002" x2="79.35" y2="1002" stroke="#000" stroke-width="1.7"/>
<rect x="65.5" y="1015" width="18.5" height="3.3" fill="#a8002f"/>
<line x1="65.5" y1="1016.5" x2="84" y2="1016.5" stroke="#1a0a10" stroke-width="2.4"/>
<line x1="101.8" y1="996.8" x2="101.8" y2="1015.3" stroke="#111111" stroke-width="1.5"/>
<line x1="97.2" y1="996.8" x2="106.4" y2="996.8" stroke="#000" stroke-width="1.7"/>
<rect x="93.4" y="1015.3" width="16.8" height="2.7" fill="#69aa40"/>
<line x1="93.4" y1="1016.5" x2="110.2" y2="1016.5" stroke="#1a0a10" stroke-width="2.4"/>
<line x1="137.5" y1="863.7" x2="137.5" y2="893" stroke="#111111" stroke-width="1.5"/>
<line x1="132.9" y1="863.7" x2="142.1" y2="863.7" stroke="#000" stroke-width="1.7"/>
<line x1="137.5" y1="929.9" x2="137.5" y2="959.3" stroke="#111111" stroke-width="1.5"/>
<line x1="132.9" y1="959.3" x2="142.1" y2="959.3" stroke="#000" stroke-width="1.7"/>
<rect x="128.9" y="893" width="17.2" height="36.9" fill="#a8002f"/>
<line x1="128.9" y1="915.4" x2="146.1" y2="915.4" stroke="#1a0a10" stroke-width="2.4"/>
<line x1="164.4" y1="899.8" x2="164.4" y2="909.5" stroke="#111111" stroke-width="1.5"/>
<line x1="159.8" y1="899.8" x2="169" y2="899.8" stroke="#000" stroke-width="1.7"/>
<line x1="164.4" y1="952.2" x2="164.4" y2="964.4" stroke="#111111" stroke-width="1.5"/>
<line x1="159.8" y1="964.4" x2="169" y2="964.4" stroke="#000" stroke-width="1.7"/>
<rect x="155.8" y="909.5" width="17.2" height="42.7" fill="#69aa40"/>
<line x1="155.8" y1="937.5" x2="173" y2="937.5" stroke="#1a0a10" stroke-width="2.4"/>
<line x1="200.4" y1="908.1" x2="200.4" y2="914.6" stroke="#111111" stroke-width="1.5"/>
<line x1="195.8" y1="908.1" x2="205" y2="908.1" stroke="#000" stroke-width="1.7"/>
<line x1="200.4" y1="962.5" x2="200.4" y2="976.8" stroke="#111111" stroke-width="1.5"/>
<line x1="195.8" y1="976.8" x2="205" y2="976.8" stroke="#000" stroke-width="1.7"/>
<rect x="191.9" y="914.6" width="17" height="47.9" fill="#a8002f"/>
<line x1="191.9" y1="935.6" x2="208.9" y2="935.6" stroke="#1a0a10" stroke-width="2.4"/>
<line x1="227.05" y1="879.8" x2="227.05" y2="902.7" stroke="#111111" stroke-width="1.5"/>
<line x1="222.45" y1="879.8" x2="231.65" y2="879.8" stroke="#000" stroke-width="1.7"/>
<line x1="227.05" y1="938.8" x2="227.05" y2="950.9" stroke="#111111" stroke-width="1.5"/>
<line x1="222.45" y1="950.9" x2="231.65" y2="950.9" stroke="#000" stroke-width="1.7"/>
<rect x="218.3" y="902.7" width="17.5" height="36.1" fill="#69aa40"/>
<line x1="218.3" y1="911.9" x2="235.8" y2="911.9" stroke="#1a0a10" stroke-width="2.4"/>
<text x="87.9" y="1046.2" text-anchor="middle" class="tl">t=12</text>
<text x="151" y="1046.2" text-anchor="middle" class="tl">t=36</text>
<text x="213.9" y="1046.2" text-anchor="middle" class="tl">t=42</text>
<text x="273.75" y="838.2" class="le">H</text>
<text x="401.3" y="837" text-anchor="middle" class="ti">CFU liver</text>
<line x1="321" y1="852" x2="321" y2="1032.8" stroke="#111111" stroke-width="2"/>
<line x1="316" y1="1031.8" x2="500.4" y2="1031.8" stroke="#111111" stroke-width="2"/>
<line x1="316" y1="855" x2="321" y2="855" stroke="#111111" stroke-width="1.9"/>
<text x="312" y="861" text-anchor="end" class="tk">10<tspan class="sup" dx="0.5" dy="-4.5">8</tspan></text>
<line x1="316" y1="884.47" x2="321" y2="884.47" stroke="#111111" stroke-width="1.9"/>
<text x="312" y="890.47" text-anchor="end" class="tk">10<tspan class="sup" dx="0.5" dy="-4.5">7</tspan></text>
<line x1="316" y1="913.93" x2="321" y2="913.93" stroke="#111111" stroke-width="1.9"/>
<text x="312" y="919.93" text-anchor="end" class="tk">10<tspan class="sup" dx="0.5" dy="-4.5">6</tspan></text>
<line x1="316" y1="943.4" x2="321" y2="943.4" stroke="#111111" stroke-width="1.9"/>
<text x="312" y="949.4" text-anchor="end" class="tk">10<tspan class="sup" dx="0.5" dy="-4.5">5</tspan></text>
<line x1="316" y1="972.87" x2="321" y2="972.87" stroke="#111111" stroke-width="1.9"/>
<text x="312" y="978.87" text-anchor="end" class="tk">10<tspan class="sup" dx="0.5" dy="-4.5">4</tspan></text>
<line x1="316" y1="1002.33" x2="321" y2="1002.33" stroke="#111111" stroke-width="1.9"/>
<text x="312" y="1008.33" text-anchor="end" class="tk">10<tspan class="sup" dx="0.5" dy="-4.5">3</tspan></text>
<line x1="316" y1="1031.8" x2="321" y2="1031.8" stroke="#111111" stroke-width="1.9"/>
<text x="312" y="1037.8" text-anchor="end" class="tk">10<tspan class="sup" dx="0.5" dy="-4.5">2</tspan></text>
<text transform="translate(286.2,941.55) rotate(-90) scale(0.69,1)" text-anchor="middle" class="yl">CFU/mL</text>
<line x1="326.6" y1="1014.4" x2="498.2" y2="1014.4" stroke="#000" stroke-width="2.3" stroke-linecap="round" stroke-dasharray="0.35 4.4000"/>
<rect x="325.3" y="1013" width="18.2" height="2.6" fill="#a8002f"/>
<line x1="325.3" y1="1014.3" x2="343.5" y2="1014.3" stroke="#1a0a10" stroke-width="2.4"/>
<rect x="353" y="1013" width="17" height="2.6" fill="#69aa40"/>
<line x1="353" y1="1014.3" x2="370" y2="1014.3" stroke="#1a0a10" stroke-width="2.4"/>
<line x1="396.85" y1="884.2" x2="396.85" y2="924.6" stroke="#111111" stroke-width="1.5"/>
<line x1="392.25" y1="884.2" x2="401.45" y2="884.2" stroke="#000" stroke-width="1.7"/>
<line x1="396.85" y1="956.6" x2="396.85" y2="979.3" stroke="#111111" stroke-width="1.5"/>
<line x1="392.25" y1="979.3" x2="401.45" y2="979.3" stroke="#000" stroke-width="1.7"/>
<rect x="388.1" y="924.6" width="17.5" height="32" fill="#a8002f"/>
<line x1="388.1" y1="942.9" x2="405.6" y2="942.9" stroke="#1a0a10" stroke-width="2.4"/>
<line x1="423.25" y1="928.7" x2="423.25" y2="932.7" stroke="#111111" stroke-width="1.5"/>
<line x1="418.65" y1="928.7" x2="427.85" y2="928.7" stroke="#000" stroke-width="1.7"/>
<line x1="423.25" y1="980.3" x2="423.25" y2="1014.3" stroke="#111111" stroke-width="1.5"/>
<line x1="418.65" y1="1014.3" x2="427.85" y2="1014.3" stroke="#000" stroke-width="1.7"/>
<rect x="414.5" y="932.7" width="17.5" height="47.6" fill="#69aa40"/>
<line x1="414.5" y1="966.9" x2="432" y2="966.9" stroke="#1a0a10" stroke-width="2.4"/>
<line x1="459.25" y1="932.2" x2="459.25" y2="938.6" stroke="#111111" stroke-width="1.5"/>
<line x1="454.65" y1="932.2" x2="463.85" y2="932.2" stroke="#000" stroke-width="1.7"/>
<line x1="459.25" y1="977.6" x2="459.25" y2="987.9" stroke="#111111" stroke-width="1.5"/>
<line x1="454.65" y1="987.9" x2="463.85" y2="987.9" stroke="#000" stroke-width="1.7"/>
<rect x="450.5" y="938.6" width="17.5" height="39" fill="#a8002f"/>
<line x1="450.5" y1="970.4" x2="468" y2="970.4" stroke="#1a0a10" stroke-width="2.4"/>
<line x1="485.95" y1="877.5" x2="485.95" y2="906.3" stroke="#111111" stroke-width="1.5"/>
<line x1="481.35" y1="877.5" x2="490.55" y2="877.5" stroke="#000" stroke-width="1.7"/>
<line x1="485.95" y1="953.4" x2="485.95" y2="975" stroke="#111111" stroke-width="1.5"/>
<line x1="481.35" y1="975" x2="490.55" y2="975" stroke="#000" stroke-width="1.7"/>
<rect x="477.5" y="906.3" width="16.9" height="47.1" fill="#69aa40"/>
<line x1="477.5" y1="916.5" x2="494.4" y2="916.5" stroke="#1a0a10" stroke-width="2.4"/>
<text x="347.5" y="1046.2" text-anchor="middle" class="tl">t=12</text>
<text x="410.2" y="1046.2" text-anchor="middle" class="tl">t=36</text>
<text x="472.4" y="1046.2" text-anchor="middle" class="tl">t=42</text>
</svg>
<div class="frame"></div>
</body></html>
